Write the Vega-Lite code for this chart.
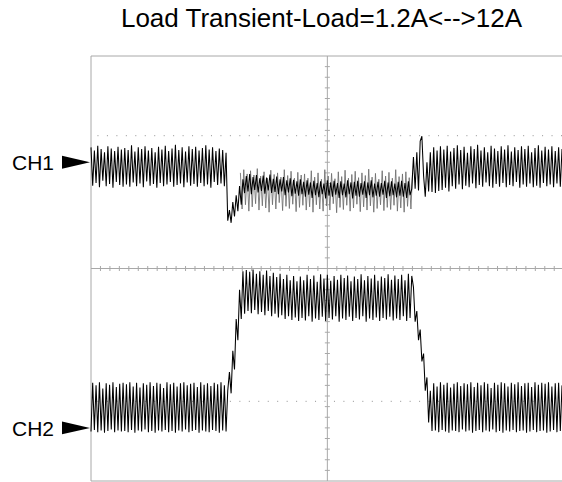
{
"$schema": "https://vega.github.io/schema/vega-lite/v6.json",
"width": 471, "height": 425,
"autosize": {"type": "none"},
"padding": {"left": 91, "top": 56, "right": 0, "bottom": 1},
"background": "white",
"title": {"text": "Load Transient-Load=1.2A<-->12A", "font": "Liberation Sans", "fontSize": 26, "fontWeight": "normal", "color": "black", "anchor": "middle", "offset": 24, "dx": -5},
"config": {"view": {"stroke": null}},
"datasets": {
"g1": [
{"i":88.5,"g":1.80},{"i":89.5,"g":1.12},{"i":90.5,"g":1.86},{"i":91.5,"g":1.20},{"i":92.5,"g":1.78},{"i":93.5,"g":1.08},{"i":94.5,"g":1.84},{"i":95.5,"g":1.16},{"i":96.5,"g":1.76},{"i":97.5,"g":1.22},
{"i":98.5,"g":1.88},{"i":99.5,"g":1.10},{"i":100.5,"g":1.74},{"i":101.5,"g":1.18},{"i":102.5,"g":1.82},{"i":103.5,"g":1.14},{"i":104.5,"g":1.70},{"i":105.5,"g":1.06},{"i":106.5,"g":1.85},{"i":107.5,"g":1.20},
{"i":108.5,"g":1.77},{"i":109.5,"g":1.12},{"i":110.5,"g":1.80},{"i":111.5,"g":1.24},{"i":112.5,"g":1.72},{"i":113.5,"g":1.09},{"i":114.5,"g":1.86},{"i":115.5,"g":1.17},{"i":116.5,"g":1.75},{"i":117.5,"g":1.13},
{"i":118.5,"g":1.83},{"i":119.5,"g":1.21},{"i":120.5,"g":1.70},{"i":121.5,"g":1.07},{"i":122.5,"g":1.81},{"i":123.5,"g":1.15},{"i":124.5,"g":1.76},{"i":125.5,"g":1.19},{"i":126.5,"g":1.78},{"i":127.5,"g":1.10},
{"i":128.5,"g":1.70},{"i":129.5,"g":1.16},{"i":130.5,"g":1.84},{"i":131.5,"g":1.06},{"i":132.5,"g":1.72},{"i":133.5,"g":1.20},{"i":134.5,"g":1.80},{"i":135.5,"g":1.12},{"i":136.5,"g":1.68},{"i":137.5,"g":1.08},
{"i":138.5,"g":1.86},{"i":139.5,"g":1.18},{"i":140.5,"g":1.74},{"i":141.5,"g":1.10},{"i":142.5,"g":1.79},{"i":143.5,"g":1.22},{"i":144.5,"g":1.69},{"i":145.5,"g":1.05},{"i":146.5,"g":1.82},{"i":147.5,"g":1.15},
{"i":148.5,"g":1.73},{"i":149.5,"g":1.11},{"i":150.5,"g":1.85},{"i":151.5,"g":1.19},{"i":152.5,"g":1.70},{"i":153.5,"g":1.08},{"i":154.5,"g":1.77},{"i":155.5,"g":1.14},{"i":156.5,"g":1.83},{"i":157.5,"g":1.21},
{"i":158.5,"g":1.71},{"i":159.5,"g":1.07},{"i":160.5,"g":1.80},{"i":161.5,"g":1.16},{"i":162.5,"g":1.75},{"i":163.5,"g":1.10},{"i":164.5,"g":1.87},{"i":165.5,"g":1.18},{"i":166.5,"g":1.72},{"i":167.5,"g":1.06},
{"i":168.5,"g":1.79},{"i":169.5,"g":1.13},{"i":170.5,"g":1.68},{"i":171.5,"g":1.20},{"i":172.5,"g":1.84},{"i":173.5,"g":1.09},{"i":174.5,"g":1.74},{"i":175.5,"g":1.15},{"i":176.5,"g":1.81},{"i":177.5,"g":1.11},
{"i":178.5,"g":1.70},{"i":179.5,"g":1.19},{"i":180.5,"g":1.86},{"i":181.5,"g":1.08},{"i":182.5,"g":1.73},{"i":183.5,"g":1.14},{"i":184.5,"g":1.78},{"i":185.5,"g":1.06},{"i":186.5,"g":1.82},{"i":187.5,"g":1.17},
{"i":188.5,"g":1.71},{"i":189.5,"g":1.12},{"i":190.5,"g":1.80}
],
"tr": [
{"i":0,"a":2.28,"b":-3.07},{"i":1,"a":1.56,"b":-2.15},{"i":2,"a":2.22,"b":-3.04},{"i":3,"a":1.61,"b":-2.20},{"i":4,"a":2.31,"b":-3.08},{"i":5,"a":1.53,"b":-2.14},{"i":6,"a":2.25,"b":-3.05},{"i":7,"a":1.65,"b":-2.26},{"i":8,"a":2.19,"b":-3.09},{"i":9,"a":1.55,"b":-2.16},
{"i":10,"a":2.30,"b":-3.06},{"i":11,"a":1.59,"b":-2.19},{"i":12,"a":2.26,"b":-3.03},{"i":13,"a":1.52,"b":-2.14},{"i":14,"a":2.21,"b":-3.08},{"i":15,"a":1.63,"b":-2.23},{"i":16,"a":2.29,"b":-3.05},{"i":17,"a":1.57,"b":-2.17},{"i":18,"a":2.24,"b":-3.07},{"i":19,"a":1.54,"b":-2.15},
{"i":20,"a":2.27,"b":-3.06},{"i":21,"a":1.58,"b":-2.18},{"i":22,"a":2.23,"b":-3.08},{"i":23,"a":1.54,"b":-2.14},{"i":24,"a":2.32,"b":-3.04},{"i":25,"a":1.62,"b":-2.22},{"i":26,"a":2.20,"b":-3.09},{"i":27,"a":1.55,"b":-2.15},{"i":28,"a":2.28,"b":-3.05},{"i":29,"a":1.60,"b":-2.24},
{"i":30,"a":2.25,"b":-3.07},{"i":31,"a":1.53,"b":-2.16},{"i":32,"a":2.30,"b":-3.03},{"i":33,"a":1.64,"b":-2.19},{"i":34,"a":2.22,"b":-3.08},{"i":35,"a":1.56,"b":-2.14},{"i":36,"a":2.27,"b":-3.06},{"i":37,"a":1.59,"b":-2.21},{"i":38,"a":2.19,"b":-3.09},{"i":39,"a":1.52,"b":-2.15},
{"i":40,"a":2.29,"b":-3.05},{"i":41,"a":1.61,"b":-2.17},{"i":42,"a":2.24,"b":-3.07},{"i":43,"a":1.55,"b":-2.25},{"i":44,"a":2.31,"b":-3.04},{"i":45,"a":1.58,"b":-2.14},{"i":46,"a":2.21,"b":-3.08},{"i":47,"a":1.63,"b":-2.18},{"i":48,"a":2.26,"b":-3.06},{"i":49,"a":1.54,"b":-2.15},
{"i":50,"a":2.33,"b":-3.09},{"i":51,"a":1.57,"b":-2.22},{"i":52,"a":2.23,"b":-3.05},{"i":53,"a":1.60,"b":-2.16},{"i":54,"a":2.28,"b":-3.07},{"i":55,"a":1.53,"b":-2.14},{"i":56,"a":2.20,"b":-3.03},{"i":57,"a":1.62,"b":-2.20},{"i":58,"a":2.30,"b":-3.08},{"i":59,"a":1.56,"b":-2.17},
{"i":60,"a":2.25,"b":-3.06},{"i":61,"a":1.59,"b":-2.15},{"i":62,"a":2.29,"b":-3.04},{"i":63,"a":1.54,"b":-2.23},{"i":64,"a":2.22,"b":-3.09},{"i":65,"a":1.61,"b":-2.14},{"i":66,"a":2.27,"b":-3.05},{"i":67,"a":1.55,"b":-2.19},{"i":68,"a":2.32,"b":-3.07},{"i":69,"a":1.58,"b":-2.16},
{"i":70,"a":2.24,"b":-3.08},{"i":71,"a":1.52,"b":-2.21},{"i":72,"a":2.28,"b":-3.04},{"i":73,"a":1.63,"b":-2.15},{"i":74,"a":2.21,"b":-3.06},{"i":75,"a":1.57,"b":-2.18},{"i":76,"a":2.26,"b":-3.09},{"i":77,"a":1.60,"b":-2.14},{"i":78,"a":2.23,"b":-3.05},{"i":79,"a":1.55,"b":-2.20},
{"i":80,"a":2.18,"b":-3.07},{"i":81,"a":0.90,"b":-2.30},{"i":82,"a":1.10,"b":-1.95},{"i":83,"a":0.86,"b":-2.35},{"i":84,"a":1.25,"b":-1.55},{"i":85,"a":0.98,"b":-1.90},{"i":86,"a":1.38,"b":-0.95},{"i":87,"a":1.08,"b":-1.35},{"i":88,"a":1.55,"b":-0.40},{"i":89,"a":1.20,"b":-0.95},
{"i":90,"a":1.68,"b":-0.05},{"i":91,"a":1.42,"b":-0.85},{"i":92,"a":1.74,"b":-0.03},{"i":93,"a":1.45,"b":-0.80},{"i":94,"a":1.78,"b":-0.06},{"i":95,"a":1.40,"b":-0.84},{"i":96,"a":1.72,"b":-0.02},{"i":97,"a":1.48,"b":-0.78},{"i":98,"a":1.76,"b":-0.10},{"i":99,"a":1.43,"b":-0.86},
{"i":100,"a":1.70,"b":-0.05},{"i":101,"a":1.46,"b":-0.82},{"i":102,"a":1.75,"b":-0.12},{"i":103,"a":1.41,"b":-0.88},{"i":104,"a":1.71,"b":-0.04},{"i":105,"a":1.47,"b":-0.80},{"i":106,"a":1.77,"b":-0.14},{"i":107,"a":1.42,"b":-0.90},{"i":108,"a":1.69,"b":-0.08},{"i":109,"a":1.44,"b":-0.85},
{"i":110,"a":1.73,"b":-0.16},{"i":111,"a":1.40,"b":-0.92},{"i":112,"a":1.68,"b":-0.10},{"i":113,"a":1.45,"b":-0.88},{"i":114,"a":1.72,"b":-0.20},{"i":115,"a":1.38,"b":-0.95},{"i":116,"a":1.66,"b":-0.12},{"i":117,"a":1.43,"b":-0.90},{"i":118,"a":1.70,"b":-0.22},{"i":119,"a":1.36,"b":-0.97},
{"i":120,"a":1.67,"b":-0.14},{"i":121,"a":1.41,"b":-0.92},{"i":122,"a":1.64,"b":-0.24},{"i":123,"a":1.37,"b":-0.99},{"i":124,"a":1.68,"b":-0.15},{"i":125,"a":1.40,"b":-0.93},{"i":126,"a":1.63,"b":-0.22},{"i":127,"a":1.35,"b":-0.98},{"i":128,"a":1.66,"b":-0.12},{"i":129,"a":1.39,"b":-0.90},
{"i":130,"a":1.62,"b":-0.20},{"i":131,"a":1.33,"b":-1.00},{"i":132,"a":1.65,"b":-0.13},{"i":133,"a":1.38,"b":-0.94},{"i":134,"a":1.61,"b":-0.25},{"i":135,"a":1.34,"b":-0.97},{"i":136,"a":1.64,"b":-0.11},{"i":137,"a":1.40,"b":-0.91},{"i":138,"a":1.60,"b":-0.19},{"i":139,"a":1.32,"b":-0.99},
{"i":140,"a":1.66,"b":-0.12},{"i":141,"a":1.37,"b":-0.93},{"i":142,"a":1.62,"b":-0.23},{"i":143,"a":1.35,"b":-0.96},{"i":144,"a":1.65,"b":-0.14},{"i":145,"a":1.39,"b":-0.90},{"i":146,"a":1.61,"b":-0.21},{"i":147,"a":1.33,"b":-1.00},{"i":148,"a":1.64,"b":-0.12},{"i":149,"a":1.38,"b":-0.94},
{"i":150,"a":1.60,"b":-0.18},{"i":151,"a":1.34,"b":-0.97},{"i":152,"a":1.66,"b":-0.13},{"i":153,"a":1.40,"b":-0.91},{"i":154,"a":1.62,"b":-0.24},{"i":155,"a":1.32,"b":-0.99},{"i":156,"a":1.63,"b":-0.15},{"i":157,"a":1.37,"b":-0.93},{"i":158,"a":1.65,"b":-0.20},{"i":159,"a":1.35,"b":-0.96},
{"i":160,"a":1.61,"b":-0.11},{"i":161,"a":1.39,"b":-0.90},{"i":162,"a":1.64,"b":-0.22},{"i":163,"a":1.33,"b":-1.00},{"i":164,"a":1.62,"b":-0.14},{"i":165,"a":1.38,"b":-0.94},{"i":166,"a":1.66,"b":-0.19},{"i":167,"a":1.34,"b":-0.97},{"i":168,"a":1.60,"b":-0.12},{"i":169,"a":1.37,"b":-0.92},
{"i":170,"a":1.63,"b":-0.23},{"i":171,"a":1.35,"b":-0.99},{"i":172,"a":1.61,"b":-0.15},{"i":173,"a":1.39,"b":-0.93},{"i":174,"a":1.65,"b":-0.18},{"i":175,"a":1.33,"b":-0.96},{"i":176,"a":1.62,"b":-0.11},{"i":177,"a":1.36,"b":-0.91},{"i":178,"a":1.64,"b":-0.21},{"i":179,"a":1.38,"b":-0.98},
{"i":180,"a":1.60,"b":-0.13},{"i":181,"a":1.34,"b":-0.94},{"i":182,"a":1.63,"b":-0.20},{"i":183,"a":1.37,"b":-0.97},{"i":184,"a":1.65,"b":-0.12},{"i":185,"a":1.35,"b":-0.90},{"i":186,"a":1.61,"b":-0.22},{"i":187,"a":1.33,"b":-0.99},{"i":188,"a":1.64,"b":-0.10},{"i":189,"a":1.38,"b":-0.93},
{"i":190,"a":1.50,"b":-0.14},{"i":191,"a":2.10,"b":-0.35},{"i":192,"a":1.50,"b":-1.00},{"i":193,"a":2.19,"b":-0.80},{"i":194,"a":1.47,"b":-1.35},{"i":195,"a":2.40,"b":-1.15},{"i":196,"a":2.49,"b":-1.75},{"i":197,"a":1.75,"b":-1.60},{"i":198,"a":1.35,"b":-2.30},{"i":199,"a":2.00,"b":-2.05},
{"i":200,"a":1.45,"b":-2.90},{"i":201,"a":2.19,"b":-2.30},{"i":202,"a":1.44,"b":-3.06},{"i":203,"a":2.28,"b":-2.16},{"i":204,"a":1.42,"b":-3.05},{"i":205,"a":2.22,"b":-2.22},{"i":206,"a":1.46,"b":-3.08},{"i":207,"a":2.30,"b":-2.14},{"i":208,"a":1.48,"b":-3.04},{"i":209,"a":2.24,"b":-2.19},
{"i":210,"a":1.52,"b":-3.07},{"i":211,"a":2.31,"b":-2.15},{"i":212,"a":1.45,"b":-3.09},{"i":213,"a":2.20,"b":-2.24},{"i":214,"a":1.55,"b":-3.05},{"i":215,"a":2.27,"b":-2.17},{"i":216,"a":1.50,"b":-3.06},{"i":217,"a":2.32,"b":-2.14},{"i":218,"a":1.58,"b":-3.08},{"i":219,"a":2.23,"b":-2.21},
{"i":220,"a":1.49,"b":-3.03},{"i":221,"a":2.29,"b":-2.16},{"i":222,"a":1.56,"b":-3.07},{"i":223,"a":2.18,"b":-2.18},{"i":224,"a":1.53,"b":-3.05},{"i":225,"a":2.30,"b":-2.14},{"i":226,"a":1.60,"b":-3.09},{"i":227,"a":2.25,"b":-2.23},{"i":228,"a":1.51,"b":-3.06},{"i":229,"a":2.33,"b":-2.15},
{"i":230,"a":1.57,"b":-3.04},{"i":231,"a":2.22,"b":-2.20},{"i":232,"a":1.54,"b":-3.08},{"i":233,"a":2.28,"b":-2.14},{"i":234,"a":1.62,"b":-3.05},{"i":235,"a":2.19,"b":-2.17},{"i":236,"a":1.55,"b":-3.07},{"i":237,"a":2.31,"b":-2.25},{"i":238,"a":1.52,"b":-3.03},{"i":239,"a":2.26,"b":-2.15},
{"i":240,"a":1.59,"b":-3.08},{"i":241,"a":2.21,"b":-2.19},{"i":242,"a":1.54,"b":-3.06},{"i":243,"a":2.30,"b":-2.14},{"i":244,"a":1.61,"b":-3.09},{"i":245,"a":2.24,"b":-2.16},{"i":246,"a":1.53,"b":-3.05},{"i":247,"a":2.32,"b":-2.22},{"i":248,"a":1.57,"b":-3.07},{"i":249,"a":2.20,"b":-2.15},
{"i":250,"a":1.55,"b":-3.04},{"i":251,"a":2.28,"b":-2.18},{"i":252,"a":1.63,"b":-3.08},{"i":253,"a":2.23,"b":-2.14},{"i":254,"a":1.52,"b":-3.06},{"i":255,"a":2.30,"b":-2.21},{"i":256,"a":1.58,"b":-3.05},{"i":257,"a":2.25,"b":-2.16},{"i":258,"a":1.54,"b":-3.09},{"i":259,"a":2.31,"b":-2.15},
{"i":260,"a":1.60,"b":-3.07},{"i":261,"a":2.19,"b":-2.23},{"i":262,"a":1.53,"b":-3.04},{"i":263,"a":2.27,"b":-2.14},{"i":264,"a":1.56,"b":-3.08},{"i":265,"a":2.32,"b":-2.19},{"i":266,"a":1.52,"b":-3.06},{"i":267,"a":2.22,"b":-2.15},{"i":268,"a":1.61,"b":-3.05},{"i":269,"a":2.29,"b":-2.17},
{"i":270,"a":1.55,"b":-3.09},{"i":271,"a":2.24,"b":-2.14},{"i":272,"a":1.58,"b":-3.07},{"i":273,"a":2.30,"b":-2.22},{"i":274,"a":1.53,"b":-3.04},{"i":275,"a":2.21,"b":-2.16},{"i":276,"a":1.60,"b":-3.08},{"i":277,"a":2.28,"b":-2.15},{"i":278,"a":1.54,"b":-3.06},{"i":279,"a":2.25,"b":-2.20}
]},
"data": {"name": "tr"},
"layer": [
{"data": {"values": [{}]}, "mark": {"type": "rule", "color": "#a8a8a8", "strokeWidth": 1}, "encoding": {"y": {"datum": 4, "type": "quantitative", "axis": null}}},
{"data": {"values": [{}]}, "mark": {"type": "rule", "color": "#a8a8a8", "strokeWidth": 1}, "encoding": {"y": {"datum": -4, "type": "quantitative", "axis": null}}},
{"data": {"values": [{}]}, "mark": {"type": "rule", "color": "#a8a8a8", "strokeWidth": 1}, "encoding": {"y": {"datum": 0, "type": "quantitative", "axis": null}}},
{"data": {"values": [{}]}, "mark": {"type": "rule", "color": "#a8a8a8", "strokeWidth": 1}, "encoding": {"x": {"datum": 0, "type": "quantitative", "axis": null}}},
{"data": {"values": [{}]}, "mark": {"type": "rule", "color": "#a8a8a8", "strokeWidth": 1}, "encoding": {"x": {"datum": 140, "type": "quantitative", "axis": null}}},
{"data": {"values": [{}]}, "mark": {"type": "rule", "color": "#909090", "strokeWidth": 1, "strokeDash": [1, 8.46]}, "encoding": {"y": {"datum": 2.5, "type": "quantitative", "axis": null}}},
{"data": {"values": [{}]}, "mark": {"type": "rule", "color": "#909090", "strokeWidth": 1, "strokeDash": [1, 8.46]}, "encoding": {"y": {"datum": -2.5, "type": "quantitative", "axis": null}}},
{"data": {"values": [{"t":5.6},{"t":11.2},{"t":16.8},{"t":22.4},{"t":28},{"t":33.6},{"t":39.2},{"t":44.8},{"t":50.4},{"t":56},{"t":61.6},{"t":67.2},{"t":72.8},{"t":78.4},{"t":84},{"t":89.6},{"t":95.2},{"t":100.8},{"t":106.4},{"t":112},{"t":117.6},{"t":123.2},{"t":128.8},{"t":134.4},{"t":145.6},{"t":151.2},{"t":156.8},{"t":162.4},{"t":168},{"t":173.6},{"t":179.2},{"t":184.8},{"t":190.4},{"t":196},{"t":201.6},{"t":207.2},{"t":212.8},{"t":218.4},{"t":224},{"t":229.6},{"t":235.2},{"t":240.8},{"t":246.4},{"t":252},{"t":257.6},{"t":263.2},{"t":268.8},{"t":274.4}]},
 "mark": {"type": "tick", "orient": "vertical", "size": 5, "thickness": 1, "color": "#a8a8a8", "opacity": 1},
 "encoding": {"x": {"field": "t", "type": "quantitative", "axis": null}, "y": {"datum": 0, "type": "quantitative", "axis": null}}},
{"data": {"values": [{"t":-3.8},{"t":-3.6},{"t":-3.4},{"t":-3.2},{"t":-3},{"t":-2.8},{"t":-2.6},{"t":-2.4},{"t":-2.2},{"t":-2},{"t":-1.8},{"t":-1.6},{"t":-1.4},{"t":-1.2},{"t":-1},{"t":-0.8},{"t":-0.6},{"t":-0.4},{"t":-0.2},{"t":0.2},{"t":0.4},{"t":0.6},{"t":0.8},{"t":1},{"t":1.2},{"t":1.4},{"t":1.6},{"t":1.8},{"t":2},{"t":2.2},{"t":2.4},{"t":2.6},{"t":2.8},{"t":3},{"t":3.2},{"t":3.4},{"t":3.6},{"t":3.8}]},
 "mark": {"type": "tick", "orient": "horizontal", "size": 5, "thickness": 1, "color": "#a8a8a8", "opacity": 1},
 "encoding": {"y": {"field": "t", "type": "quantitative", "axis": null}, "x": {"datum": 140, "type": "quantitative", "axis": null}}},
{"data": {"name": "g1"}, "mark": {"type": "line", "color": "#6e6e6e", "strokeWidth": 0.85},
 "encoding": {"x": {"field": "i", "type": "quantitative", "axis": null}, "y": {"field": "g", "type": "quantitative", "axis": null}}},
{"mark": {"type": "line", "color": "black", "strokeWidth": 1.05},
 "encoding": {
  "x": {"field": "i", "type": "quantitative", "scale": {"domain": [0, 279], "nice": false, "zero": false},
        "axis": {"values": [28, 56, 84, 112, 168, 196, 224, 252], "grid": true, "labels": false, "ticks": false, "domain": false, "title": null, "gridColor": "#b4b4b4", "gridDash": [1, 2], "gridWidth": 1}},
  "y": {"field": "a", "type": "quantitative", "scale": {"domain": [-4, 4], "nice": false, "zero": false},
        "axis": {"values": [-3, -2, -1, 1, 2, 3], "grid": true, "labels": false, "ticks": false, "domain": false, "title": null, "gridColor": "#b4b4b4", "gridDash": [1, 2], "gridWidth": 1}}
 }},
{"mark": {"type": "line", "color": "black", "strokeWidth": 1.05},
 "encoding": {"x": {"field": "i", "type": "quantitative", "axis": null}, "y": {"field": "b", "type": "quantitative", "axis": null}}},
{"data": {"values": [{"ch": "CH1", "lv": 2}, {"ch": "CH2", "lv": -3}]},
 "mark": {"type": "point", "shape": "M-2.07,-0.46L-0.07,0L-2.07,0.46Z", "filled": true, "color": "black", "opacity": 1, "size": 784, "strokeWidth": 0},
 "encoding": {"x": {"datum": 0, "type": "quantitative", "axis": null}, "y": {"field": "lv", "type": "quantitative", "axis": null}}},
{"data": {"values": [{"ch": "CH1", "lv": 2}, {"ch": "CH2", "lv": -3}]},
 "mark": {"type": "text", "align": "right", "baseline": "alphabetic", "dx": -37, "dy": 8, "font": "Liberation Sans", "fontSize": 21, "color": "black"},
 "encoding": {"x": {"datum": 0, "type": "quantitative", "axis": null}, "y": {"field": "lv", "type": "quantitative", "axis": null}, "text": {"field": "ch"}}}
]
}
